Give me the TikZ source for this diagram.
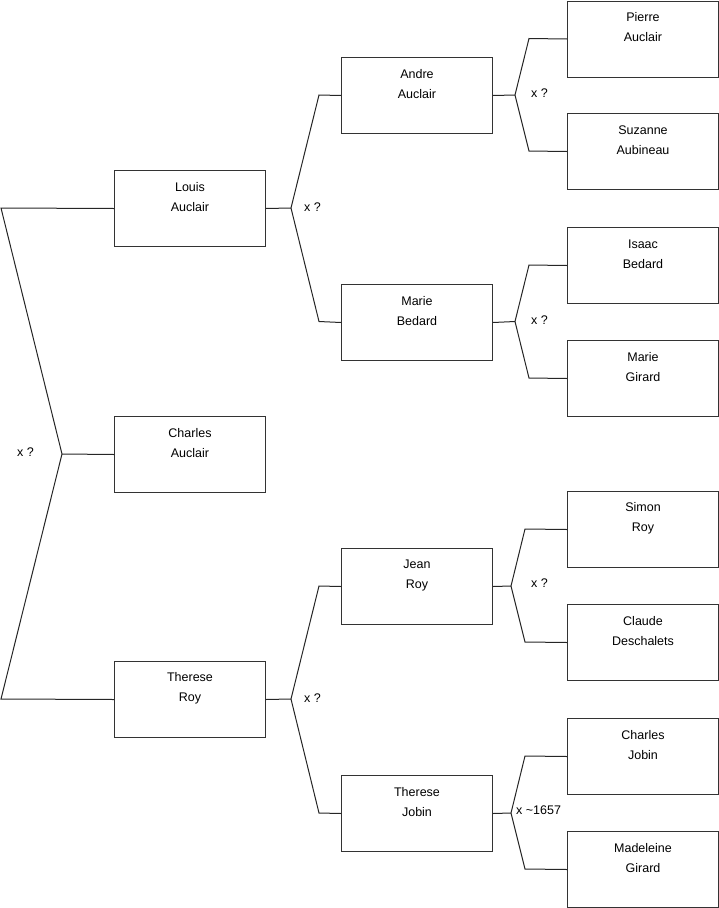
\documentclass[tikz,border=0pt]{standalone}
\usepackage{fontspec}
\setmainfont{Liberation Sans}
\begin{document}
\begin{tikzpicture}[x=1pt,y=-1pt,
  person/.style={draw=black!80, line width=1pt, minimum width=151pt, minimum height=76pt, inner sep=0pt, anchor=north west},
  nm/.style={align=center, font=\fontsize{12.5}{20}\selectfont, inner sep=0pt},
  conn/.style={draw=black!85, line width=1pt},
  mar/.style={font=\fontsize{12.5}{14}\selectfont, anchor=west, inner sep=0pt}]
\useasboundingbox (0,0) rectangle (719,908);
% boxes
\node[person] (louis) at (114,170) {};
\node[person] (charles) at (114,416) {};
\node[person] (theresr) at (114,661) {};
\node[person] (andre) at (341,57) {};
\node[person] (marieb) at (341,284) {};
\node[person] (jean) at (341,548) {};
\node[person] (therj) at (341,775) {};
\node[person] (pierre) at (567,0.5) {};
\node[person] (suzanne) at (567,113) {};
\node[person] (isaac) at (567,227) {};
\node[person] (marieg) at (567,340) {};
\node[person] (simon) at (567,491) {};
\node[person] (claude) at (567,604) {};
\node[person] (charlesj) at (567,718) {};
\node[person] (madeleine) at (567,831) {};
% names
\node[nm] (tlouis) at ([yshift=-27pt]louis.north) {Louis\\Auclair};
\node[nm] (tcharles) at ([yshift=-27pt]charles.north) {Charles\\Auclair};
\node[nm] (ttheresr) at ([yshift=-27pt]theresr.north) {Therese\\Roy};
\node[nm] (tandre) at ([yshift=-27pt]andre.north) {Andre\\Auclair};
\node[nm] (tmarieb) at ([yshift=-27pt]marieb.north) {Marie\\Bedard};
\node[nm] (tjean) at ([yshift=-27pt]jean.north) {Jean\\Roy};
\node[nm] (ttherj) at ([yshift=-27pt]therj.north) {Therese\\Jobin};
\node[nm] (tpierre) at ([yshift=-27pt]pierre.north) {Pierre\\Auclair};
\node[nm] (tsuzanne) at ([yshift=-27pt]suzanne.north) {Suzanne\\Aubineau};
\node[nm] (tisaac) at ([yshift=-27pt]isaac.north) {Isaac\\Bedard};
\node[nm] (tmarieg) at ([yshift=-27pt]marieg.north) {Marie\\Girard};
\node[nm] (tsimon) at ([yshift=-27pt]simon.north) {Simon\\Roy};
\node[nm] (tclaude) at ([yshift=-27pt]claude.north) {Claude\\Deschalets};
\node[nm] (tcharlesj) at ([yshift=-27pt]charlesj.north) {Charles\\Jobin};
\node[nm] (tmadeleine) at ([yshift=-27pt]madeleine.north) {Madeleine\\Girard};
% left junction
\coordinate (j0) at (62,454);
\coordinate (a0) at (1,208);
\coordinate (b0) at (1,699);
\draw[conn] (louis.west) -- (a0) -- (j0) -- (b0) -- (theresr.west);
\draw[conn] (j0) -- (charles.west);
\node[mar] (m0) at (17,452) {x ?};
% Louis
\coordinate (j1) at (291,208);
\coordinate (a1) at (319,95);
\coordinate (b1) at (319,321.5);
\draw[conn] (louis.east) -- (j1);
\draw[conn] (andre.west) -- (a1) -- (j1) -- (b1) -- (marieb.west);
\node[mar] (m1) at (304,207) {x ?};
% Therese Roy
\coordinate (j2) at (291,699);
\coordinate (a2) at (319,586);
\coordinate (b2) at (319,813);
\draw[conn] (theresr.east) -- (j2);
\draw[conn] (jean.west) -- (a2) -- (j2) -- (b2) -- (therj.west);
\node[mar] (m2) at (304,698) {x ?};
% Andre
\coordinate (j3) at (515,95);
\coordinate (a3) at (529,38.5);
\coordinate (b3) at (529,151);
\draw[conn] (andre.east) -- (j3);
\draw[conn] (pierre.west) -- (a3) -- (j3) -- (b3) -- (suzanne.west);
\node[mar] (m3) at (531,93) {x ?};
% Marie Bedard
\coordinate (j4) at (515,321.5);
\coordinate (a4) at (529,265);
\coordinate (b4) at (529,378);
\draw[conn] (marieb.east) -- (j4);
\draw[conn] (isaac.west) -- (a4) -- (j4) -- (b4) -- (marieg.west);
\node[mar] (m4) at (531,320) {x ?};
% Jean Roy
\coordinate (j5) at (511,586);
\coordinate (a5) at (525,529);
\coordinate (b5) at (525,642);
\draw[conn] (jean.east) -- (j5);
\draw[conn] (simon.west) -- (a5) -- (j5) -- (b5) -- (claude.west);
\node[mar] (m5) at (531,583) {x ?};
% Therese Jobin
\coordinate (j6) at (511,813);
\coordinate (a6) at (525,756);
\coordinate (b6) at (525,869);
\draw[conn] (therj.east) -- (j6);
\draw[conn] (charlesj.west) -- (a6) -- (j6) -- (b6) -- (madeleine.west);
\node[mar] (m6) at (516,810) {x \char`\~1657};
\end{tikzpicture}
\end{document}
